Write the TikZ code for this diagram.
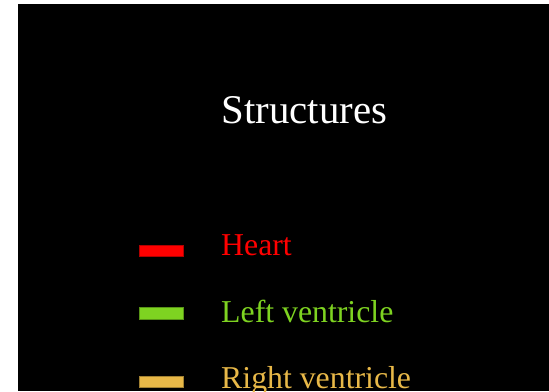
\documentclass[tikz,border=0pt]{standalone}
\usepackage{fontspec}
\setmainfont{Liberation Serif}
\definecolor{heartc}{RGB}{255,0,0}
\definecolor{lvc}{RGB}{126,211,33}
\definecolor{rvc}{RGB}{232,184,72}
\begin{document}
\begin{tikzpicture}[x=1pt,y=-1pt,
  lbl/.style={anchor=base west,inner sep=0pt,font=\fontsize{31.8}{31.8}\selectfont},
  swatch/.style={draw=#1!70!black,fill=#1,line width=0.6pt,minimum width=44pt,minimum height=11.5pt,inner sep=0pt,anchor=center}]
\useasboundingbox (0,0) rectangle (549,391);
\fill[black] (18,4) rectangle (549,391);
\node[anchor=base,inner sep=0pt,text=white,font=\fontsize{40.8}{40.8}\selectfont] (title) at (304.5,123) {Structures};
\node[swatch=heartc] (s1) at (161,250.8) {};
\node[swatch=lvc] (s2) at (161,313.5) {};
\node[swatch=rvc] (s3) at (161,381.8) {};
\node[lbl,text=heartc] (t1) at (221,255.8) {Heart};
\node[lbl,text=lvc] (t2) at (221,322) {Left ventricle};
\node[lbl,text=rvc] (t3) at (221,388.3) {Right ventricle};
\end{tikzpicture}
\end{document}
